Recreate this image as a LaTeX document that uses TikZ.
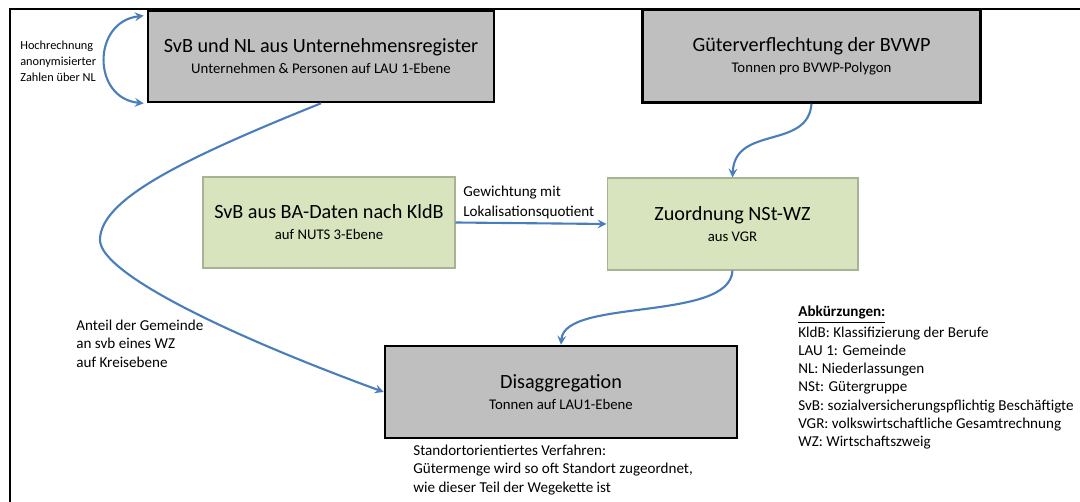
\documentclass[tikz,border=0pt]{standalone}
\usepackage{fontspec}
\setmainfont{Carlito}
\usetikzlibrary{arrows}

\definecolor{boxgrey}{RGB}{191,191,191}
\definecolor{boxgreen}{RGB}{215,228,189}
\definecolor{greenline}{RGB}{170,178,150}
\definecolor{flowblue}{RGB}{74,126,187}

\begin{document}
\begin{tikzpicture} [x=0.02cm,y=-0.02cm,>=stealth,
			grey box/.style={draw=black,line width=1.5pt,fill=boxgrey,align=center,inner sep=0pt},
			green box/.style={draw=greenline,line width=0.6pt,fill=boxgreen,align=center,inner sep=0pt},
			flow/.style={draw=flowblue,line width=1.2pt,->},
			note/.style={align=left,inner sep=0pt,font=\fontsize{8.6}{10.3}\selectfont}
			]
		\useasboundingbox (0,0) rectangle (1080,502);
		\draw [line width=1.6pt] (10,502) -- (10,9) -- (1080,9);

		\node [grey box, minimum width=6.92cm, minimum height=1.82cm] (register) at (321,56.5)
			{{\fontsize{11.5}{13}\selectfont SvB und NL aus Unternehmensregister}\\[0pt]
			 {\fontsize{8.4}{10}\selectfont Unternehmen \& Personen auf LAU 1-Ebene}};
		\node [grey box, minimum width=6.76cm, minimum height=1.86cm] (bvwp) at (811.5,56)
			{{\fontsize{11.5}{13}\selectfont Güterverflechtung der BVWP}\\[0pt]
			 {\fontsize{8.4}{10}\selectfont Tonnen pro BVWP-Polygon}};
		\node [green box, minimum width=5.04cm, minimum height=1.82cm] (badaten) at (329,222.5)
			{{\fontsize{11.5}{13}\selectfont SvB aus BA-Daten nach KldB}\\[0pt]
			 {\fontsize{8.4}{10}\selectfont auf NUTS 3-Ebene}};
		\node [green box, minimum width=5.02cm, minimum height=1.84cm] (zuordnung) at (732.5,224)
			{{\fontsize{11.5}{13}\selectfont Zuordnung NSt-WZ}\\[0pt]
			 {\fontsize{8.4}{10}\selectfont aus VGR}};
		\node [grey box, minimum width=7.04cm, minimum height=1.84cm] (disagg) at (561,392)
			{{\fontsize{11.5}{13}\selectfont Disaggregation}\\[0pt]
			 {\fontsize{8.4}{10}\selectfont Tonnen auf LAU1-Ebene}};

		% labels
		\node [align=left,inner sep=0pt,font=\fontsize{7}{9}\selectfont,anchor=north west] (hochrechnung) at (20,41)
			{Hochrechnung\\anonymisierter\\Zahlen über NL};
		\node [note,anchor=north west] (gewichtung) at (463,186) {Gewichtung mit\\[1pt]Lokalisationsquotient};
		\node [note,anchor=north west] (anteil) at (76,320) {Anteil der Gemeinde\\an svb eines WZ\\auf Kreisebene};
		\node [note,anchor=north west] (standort) at (413,445)
			{Standortorientiertes Verfahren:\\Gütermenge wird so oft Standort zugeordnet,\\wie dieser Teil der Wegekette ist};
		\node [note,anchor=north west] (abk) at (798,306)
			{\textbf{\underline{Abkürzungen:}}\\[1.5pt]
			 KldB: Klassifizierung der Berufe\\
			 LAU 1: Gemeinde\\
			 NL: Niederlassungen\\
			 NSt: Gütergruppe\\
			 SvB: sozialversicherungspflichtig Beschäftigte\\
			 VGR: volkswirtschaftliche Gesamtrechnung\\
			 WZ: Wirtschaftszweig};

		% connectors
		\coordinate (loopin) at ([xshift=-0.06cm,yshift=-0.12cm]register.north west);
		\coordinate (loopout) at ([xshift=-0.06cm]register.south west);
		\draw [flow,<->] (loopin) .. controls (92,22) and (92,98) .. (loopout);
		\draw [flow] (register.south) .. controls (180,160) and (100,200) .. (100,240)
			.. controls (100,272) and (220,332) .. (disagg.west);
		\draw [flow] (bvwp.south) .. controls (808,150) and (735,125) .. (zuordnung.north);
		\draw [flow] (badaten.east) -- (zuordnung.west);
		\draw [flow] (zuordnung.south) .. controls (730,322) and (565,298) .. (disagg.north);

		\end{tikzpicture}
\end{document}
